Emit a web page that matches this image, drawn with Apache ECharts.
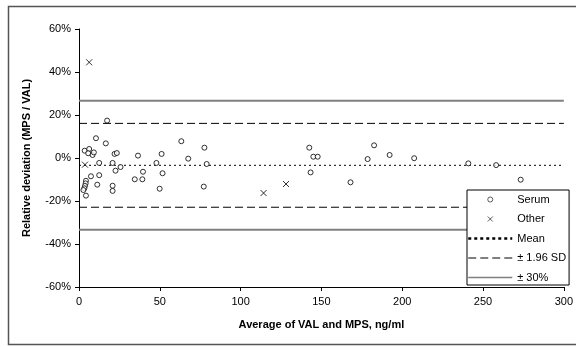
<!DOCTYPE html>
<html>
<head>
<meta charset="utf-8">
<script src="https://cdn.jsdelivr.net/npm/echarts@6/dist/echarts.min.js"></script>
<style>
  html, body { margin: 0; padding: 0; background: #fff; }
  #chart { width: 576px; height: 347px; }
</style>
</head>
<body>
<div id="chart"></div>
<script>
// relative deviation (%) against average concentration (ng/ml)
const serumX = [17.4, 10.5, 16.6, 3.5, 6.3, 5.7, 8.4, 9.2, 22, 23.4, 36.5, 51.1, 63.3, 77.6, 67.6, 79, 12.5, 20.8, 25.7, 22.6,
  47.9, 39.6, 51.7, 34.5, 39.2, 7.4, 12.5, 4.3, 4.1, 3.7, 3.3, 2.7, 4.3, 11.3, 20.8, 20.8, 49.9, 77.2,
  142.5, 145, 147.7, 143.3, 168, 178.6, 182.6, 192.2, 207.4, 240.9, 258.1, 273.3];
const serumY = [17.4, 9.2, 6.8, 3.4, 4.2, 2.2, 1.4, 2.6, 1.9, 2.3, 1.1, 1.9, 7.8, 4.8, -0.3, -2.8, -2.3, -2.3, -4.2, -5.9,
  -2.3, -6.4, -7.1, -9.9, -9.9, -8.5, -8.0, -10.6, -11.8, -13, -14.1, -14.9, -17.5, -12.4, -12.9, -15.3, -14.3, -13.3,
  4.8, 0.6, 0.6, -6.7, -11.3, -0.5, 5.9, 1.4, -0.1, -2.5, -3.3, -10.1];
const otherX = [6.3, 3.7, 114.2, 128.1];
const otherY = [44.5, -3.1, -16.3, -12.1];

const meanDev = -3.4;
const sdHalf = 19.5;   // 1.96 SD
const limitHalf = 30;  // ± 30%
const xRange = [0, 300];
const yTicks = [-60, -40, -20, 0, 20, 40, 60];

const FONT = "'Liberation Sans', Arial, sans-serif";

function pairs(xs, ys) {
  return xs.map((x, i) => [x, ys[i]]);
}
function hline(v) {
  return [[xRange[0], v], [xRange[1], v]];
}

const chart = echarts.init(document.getElementById("chart"));

const lineBase = { type: "line", symbol: "none", silent: true, z: 1, itemStyle: { color: "#000" } };
const meanStyle = { color: "#000", width: 1, type: [2, 3] };
const sdStyle = { color: "#000", width: 1, type: [8, 4] };
const limStyle = { color: "#808080", width: 2, type: "solid" };
const noSymbol = { opacity: 0 };

chart.setOption({
  animation: false,
  backgroundColor: "#fff",
  textStyle: { fontFamily: FONT },
  graphic: [
    {
      type: "rect",
      shape: { x: 8.5, y: 6.5, width: 600, height: 338 },
      style: { fill: "none", stroke: "#555", lineWidth: 1.5 },
      silent: true,
      z: 0
    }
  ],
  grid: { left: 79, right: 10, top: 29, bottom: 60 },
  legend: {
    orient: "vertical",
    left: 467,
    top: 190,
    backgroundColor: "#fff",
    borderColor: "#000",
    borderWidth: 1,
    borderRadius: 0,
    padding: [4, 3, 2, 0],
    itemGap: 8.5,
    itemWidth: 44,
    itemHeight: 5,
    textStyle: { fontSize: 11, color: "#000", fontFamily: FONT },
    data: [
      { name: "Serum", itemStyle: { color: "#fff", borderColor: "#000", borderWidth: 0.8 } },
      { name: "Other", itemStyle: { color: "none", borderColor: "#000", borderWidth: 0.8 } },
      { name: "Mean", itemStyle: noSymbol, lineStyle: { color: "#000", width: 2.5, type: [3, 3] } },
      { name: "± 1.96 SD", itemStyle: noSymbol, lineStyle: { color: "#000", width: 1, type: [8, 4] } },
      { name: "± 30%", itemStyle: noSymbol, lineStyle: { color: "#808080", width: 1.5, type: "solid" } }
    ]
  },
  xAxis: {
    type: "value",
    min: xRange[0],
    max: xRange[1],
    interval: 50,
    name: "Average of VAL and MPS, ng/ml",
    nameLocation: "middle",
    nameGap: 32,
    nameTextStyle: { fontSize: 11, fontWeight: "bold", color: "#000", fontFamily: FONT },
    axisLine: { onZero: false, lineStyle: { color: "#000", width: 1 } },
    axisTick: { show: true, length: 4, lineStyle: { color: "#000" } },
    axisLabel: { fontSize: 11, color: "#000", margin: 9, fontFamily: FONT },
    splitLine: { show: false }
  },
  yAxis: {
    type: "value",
    min: yTicks[0],
    max: yTicks[yTicks.length - 1],
    interval: 20,
    name: "Relative deviation (MPS / VAL)",
    nameLocation: "middle",
    nameGap: 47,
    nameTextStyle: { fontSize: 11, fontWeight: "bold", color: "#000", fontFamily: FONT },
    axisLine: { show: true, onZero: false, lineStyle: { color: "#000", width: 1 } },
    axisTick: { show: true, length: 4, lineStyle: { color: "#000" } },
    axisLabel: { fontSize: 11, color: "#000", margin: 8, formatter: "{value}%", fontFamily: FONT },
    splitLine: { show: false }
  },
  series: [
    Object.assign({ name: "± 30%", data: hline(meanDev + limitHalf), lineStyle: limStyle }, lineBase),
    Object.assign({ name: "± 30%", data: hline(meanDev - limitHalf), lineStyle: limStyle }, lineBase),
    Object.assign({ name: "± 1.96 SD", data: hline(meanDev + sdHalf), lineStyle: sdStyle }, lineBase),
    Object.assign({ name: "± 1.96 SD", data: hline(meanDev - sdHalf), lineStyle: sdStyle }, lineBase),
    Object.assign({ name: "Mean", data: hline(meanDev), lineStyle: meanStyle }, lineBase),
    {
      name: "Serum",
      type: "scatter",
      data: pairs(serumX, serumY),
      symbol: "circle",
      symbolSize: 5,
      itemStyle: { color: "#fff", borderColor: "#000", borderWidth: 1 },
      z: 3
    },
    {
      name: "Other",
      type: "scatter",
      data: pairs(otherX, otherY),
      symbol: "path://M0,0L10,10M0,10L10,0",
      symbolSize: 6,
      itemStyle: { color: "none", borderColor: "#000", borderWidth: 1 },
      z: 3
    }
  ]
});
</script>
</body>
</html>
